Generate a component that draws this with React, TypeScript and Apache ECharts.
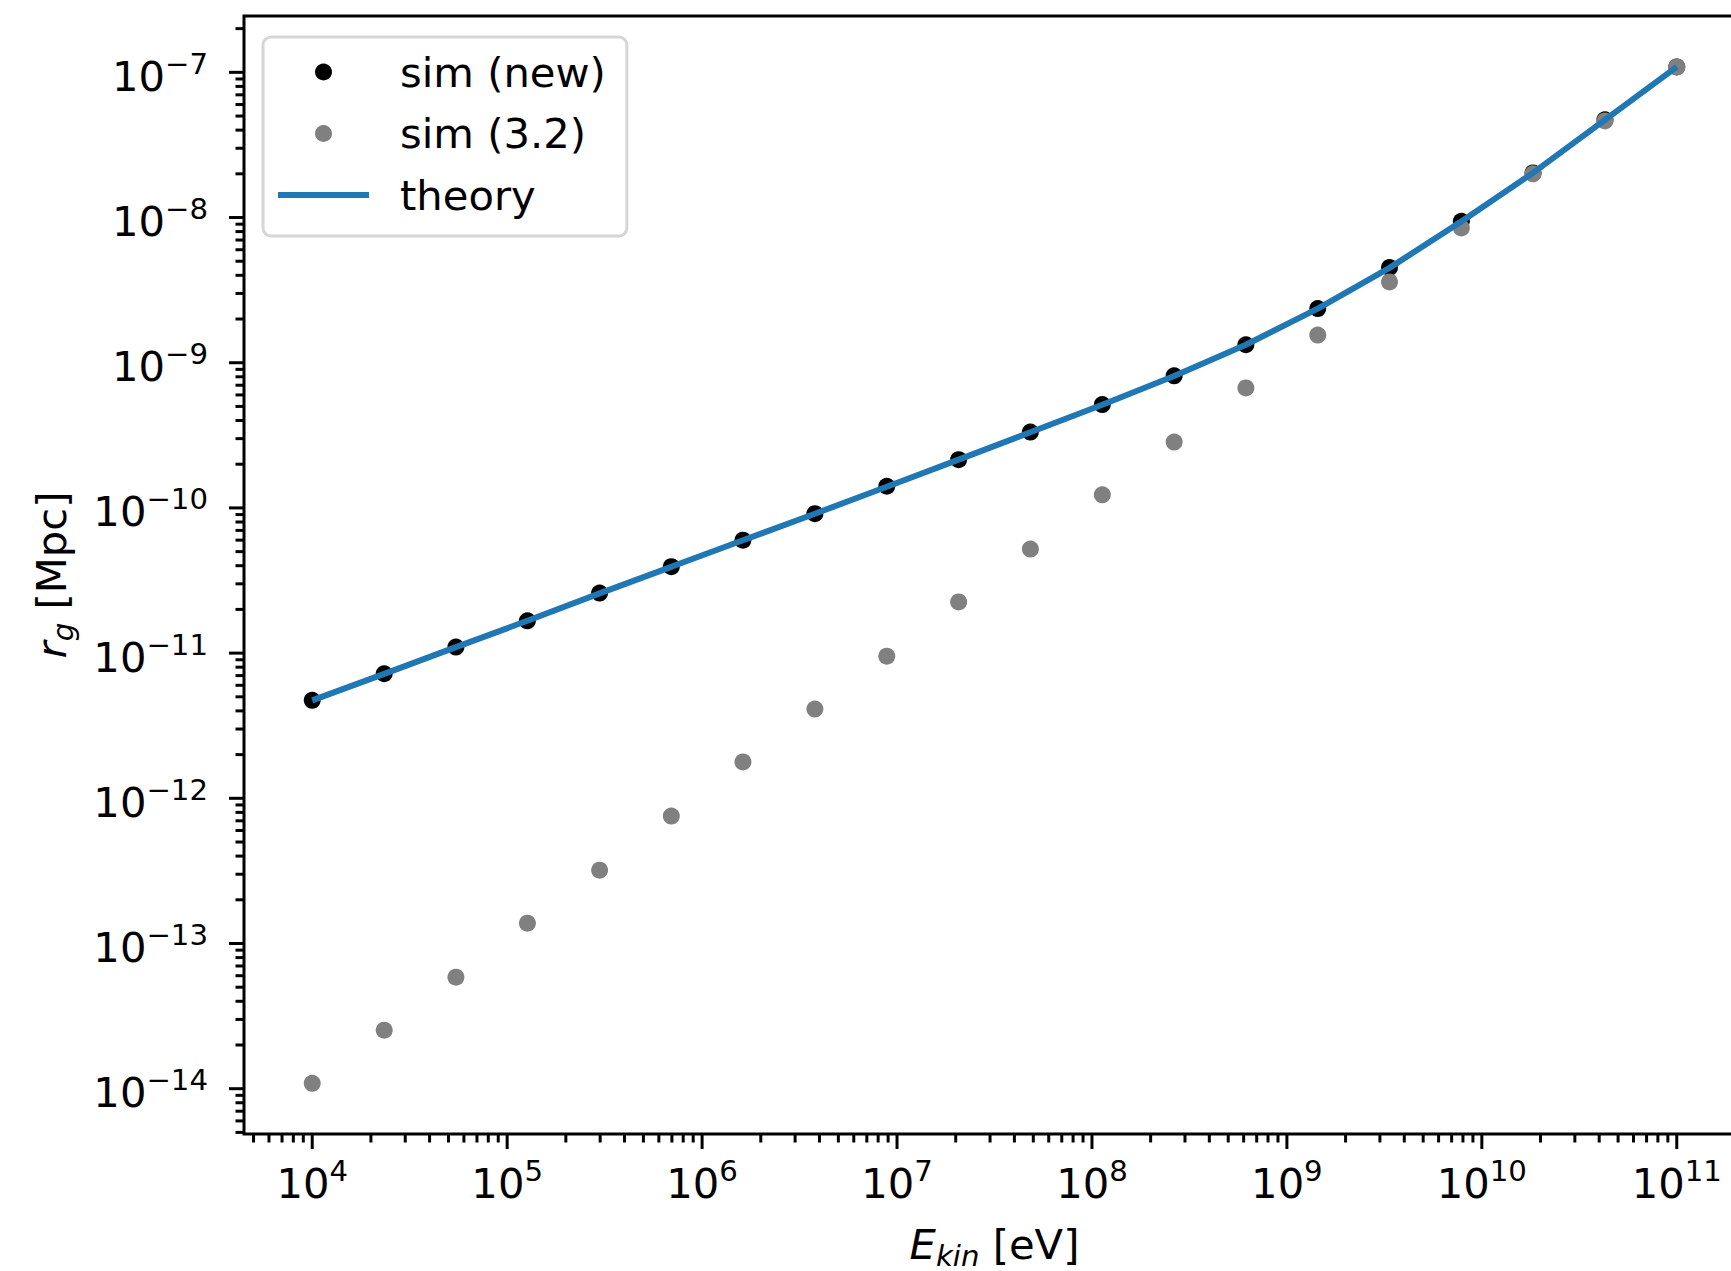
import React, { useEffect, useRef } from "react";
import * as echarts from "echarts";

// Kinetic energy [eV]
const energies = [
  1e4, 2.34e4, 5.46e4, 1.27e5, 2.98e5, 6.95e5, 1.62e6, 3.79e6, 8.86e6, 2.07e7,
  4.83e7, 1.13e8, 2.64e8, 6.16e8, 1.44e9, 3.36e9, 7.85e9, 1.83e10, 4.28e10, 1e11,
];
// r_g [Mpc], new simulation
const simNew = [
  4.73e-12, 7.21e-12, 1.1e-11, 1.67e-11, 2.59e-11, 3.94e-11, 6.0e-11, 9.12e-11, 1.41e-10, 2.15e-10,
  3.33e-10, 5.15e-10, 8.12e-10, 1.33e-9, 2.36e-9, 4.52e-9, 9.42e-9, 2.03e-8, 4.71e-8, 1.09e-7,
];
// r_g [Mpc], simulation 3.2
const sim32 = [
  1.09e-14, 2.53e-14, 5.86e-14, 1.38e-13, 3.2e-13, 7.54e-13, 1.78e-12, 4.12e-12, 9.53e-12, 2.25e-11,
  5.21e-11, 1.23e-10, 2.84e-10, 6.7e-10, 1.55e-9, 3.6e-9, 8.48e-9, 2.0e-8, 4.63e-8, 1.09e-7,
];
// r_g [Mpc], theory
const theory = [
  4.73e-12, 7.2e-12, 1.1e-11, 1.67e-11, 2.58e-11, 3.93e-11, 5.99e-11, 9.12e-11, 1.4e-10, 2.15e-10,
  3.32e-10, 5.14e-10, 8.1e-10, 1.33e-9, 2.36e-9, 4.5e-9, 9.4e-9, 2.03e-8, 4.7e-8, 1.09e-7,
];

// axis tick positions
const xDecades = [1e3, 1e4, 1e5, 1e6, 1e7, 1e8, 1e9, 1e10, 1e11];
const yDecades = [1e-15, 1e-14, 1e-13, 1e-12, 1e-11, 1e-10, 1e-9, 1e-8, 1e-7];
const minorMultipliers = [2, 3, 4, 5, 6, 7, 8, 9];

const X_MIN = Math.pow(10, 3.65);
const X_MAX = Math.pow(10, 11.35);
const Y_MIN = Math.pow(10, -14.312);
const Y_MAX = Math.pow(10, -6.612);

const FONT = "DejaVu Sans";
const FS = 41.7;
const FS_SMALL = 29.2;

function supLabel(v: number): string {
  const l = Math.log10(v);
  const e = Math.round(l);
  if (Math.abs(l - e) > 0.01) return "";
  const s = e < 0 ? "\u2212" + String(-e) : String(e);
  return "{b|10}{s|" + s + "}";
}

const labelRich = {
  b: { fontSize: FS, fontFamily: FONT, color: "#000", lineHeight: 50, verticalAlign: "bottom" },
  s: { fontSize: FS_SMALL, fontFamily: FONT, color: "#000", lineHeight: 35, verticalAlign: "bottom", padding: [0, 0, 19, 0] },
};

const nameRich = {
  i: { fontSize: FS, fontFamily: FONT, fontStyle: "italic", color: "#000", lineHeight: 50, verticalAlign: "bottom", padding: [0, 0, 5, 0] },
  sub: { fontSize: FS_SMALL, fontFamily: FONT, fontStyle: "italic", color: "#000", lineHeight: 35, verticalAlign: "bottom" },
  n: { fontSize: FS, fontFamily: FONT, color: "#000", lineHeight: 50, verticalAlign: "bottom", padding: [0, 0, 5, 0] },
};

export default function App() {
  const ref = useRef<HTMLDivElement>(null);
  useEffect(() => {
    if (!ref.current) return;
    const chart = echarts.init(ref.current, null, { renderer: "svg" });

    // tick marks data: [x, y, kind(0=x,1=y), length]
    const tickData: number[][] = [];
    xDecades.forEach((d) => {
      if (d >= X_MIN && d <= X_MAX) tickData.push([d, Y_MIN, 0, 15]);
      minorMultipliers.forEach((m) => {
        const v = d * m;
        if (v >= X_MIN && v <= X_MAX) tickData.push([v, Y_MIN, 0, 8.5]);
      });
    });
    yDecades.forEach((d) => {
      if (d >= Y_MIN && d <= Y_MAX) tickData.push([X_MIN, d, 1, 15]);
      minorMultipliers.forEach((m) => {
        const v = d * m;
        if (v >= Y_MIN && v <= Y_MAX) tickData.push([X_MIN, v, 1, 8.5]);
      });
    });

    chart.setOption({
      animation: false,
      backgroundColor: "#fff",
      grid: {
        left: 244,
        top: 16,
        width: 1501,
        height: 1118,
        show: true,
        borderColor: "#000",
        borderWidth: 3,
        backgroundColor: "transparent",
        containLabel: false,
        outerBoundsMode: "none",
      },
      legend: {
        left: 263,
        top: 37,
        orient: "vertical",
        itemWidth: 91,
        itemHeight: 17,
        itemGap: 19.5,
        padding: [14, 21, 20, 15],
        backgroundColor: "#fff",
        borderColor: "#d6d6d6",
        borderWidth: 3,
        borderRadius: 8,
        textStyle: { fontSize: FS, fontFamily: FONT, color: "#000", lineHeight: 41, padding: [0, 0, 0, 26] },
        data: [
          { name: "sim (new)", icon: "circle" },
          { name: "sim (3.2)", icon: "circle" },
          { name: "theory", icon: "path://M0 0H91V6H0Z" },
        ],
      },
      xAxis: {
        type: "log",
        logBase: 10,
        min: X_MIN,
        max: X_MAX,
        name: "{i|E}{sub|kin}{n| [eV]}",
        nameLocation: "middle",
        nameGap: 86,
        nameTextStyle: { rich: nameRich },
        axisLine: { show: false },
        axisTick: { show: false },
        splitLine: { show: false },
        minorTick: { show: false },
        axisLabel: {
          margin: 20,
          formatter: (v: number) => supLabel(v),
          rich: labelRich,
        },
      },
      yAxis: {
        type: "log",
        logBase: 10,
        min: Y_MIN,
        max: Y_MAX,
        name: "{i|r}{sub|g}{n| [Mpc]}",
        nameLocation: "middle",
        nameRotate: 90,
        nameGap: 167,
        nameTextStyle: { rich: nameRich },
        axisLine: { show: false },
        axisTick: { show: false },
        splitLine: { show: false },
        minorTick: { show: false },
        axisLabel: {
          margin: 36,
          formatter: (v: number) => supLabel(v),
          rich: labelRich,
        },
      },
      series: [
        {
          name: "sim (new)",
          type: "scatter",
          symbol: "circle",
          symbolSize: 17,
          itemStyle: { color: "#000000", opacity: 1 },
          data: energies.map((e, i) => [e, simNew[i]]),
          z: 2,
        },
        {
          name: "sim (3.2)",
          type: "scatter",
          symbol: "circle",
          symbolSize: 17,
          itemStyle: { color: "#808080", opacity: 1 },
          data: energies.map((e, i) => [e, sim32[i]]),
          z: 3,
        },
        {
          name: "theory",
          type: "line",
          showSymbol: false,
          symbol: "none",
          lineStyle: { color: "#1f77b4", width: 6 },
          itemStyle: { color: "#1f77b4" },
          data: energies.map((e, i) => [e, theory[i]]),
          z: 4,
        },
        {
          name: "ticks",
          type: "custom",
          silent: true,
          clip: false,
          encode: { x: 0, y: 1 },
          data: tickData,
          renderItem: (params: any, api: any) => {
            const p = api.coord([api.value(0), api.value(1)]);
            const kind = api.value(2);
            const len = api.value(3);
            if (kind === 0) {
              return {
                type: "line",
                shape: { x1: p[0], y1: p[1], x2: p[0], y2: p[1] + len },
                style: { stroke: "#000", lineWidth: 3 },
              };
            }
            return {
              type: "line",
              shape: { x1: p[0], y1: p[1], x2: p[0] - len, y2: p[1] },
              style: { stroke: "#000", lineWidth: 3 },
            };
          },
          z: 5,
        },
      ],
    });
    return () => chart.dispose();
  }, []);
  return (
    <div
      ref={ref}
      style={{ position: "fixed", left: 0, top: 0, width: 1731, height: 1271, background: "#fff" }}
    />
  );
}
